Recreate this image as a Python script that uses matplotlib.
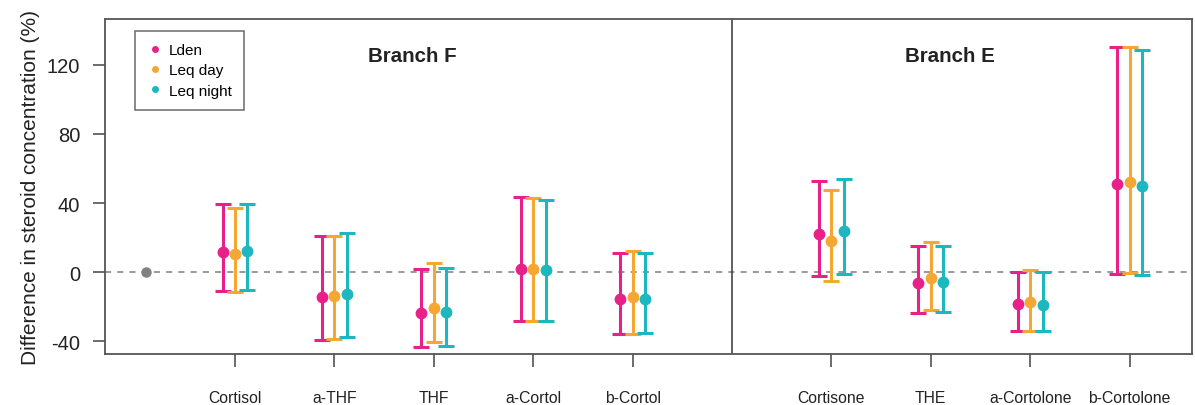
import matplotlib
matplotlib.use("Agg")
import matplotlib.pyplot as plt
from matplotlib.lines import Line2D
import numpy as np

plt.rcParams['font.family'] = ['Liberation Sans', 'DejaVu Sans']

# Steroid metabolites, grouped by branch
branch_f = ["Cortisol", "a-THF", "THF", "a-Cortol", "b-Cortol"]
branch_e = ["Cortisone", "THE", "a-Cortolone", "b-Cortolone"]
steroids = branch_f + branch_e

exposures = ["Lden", "Leq day", "Leq night"]

# Estimated % difference with 95% CI, per exposure metric
lden_est = [11.8, -14.1, -23.7, 1.9, -15.4, 22.3, -6.0, -18.5, 50.9]
lden_lo = [-10.6, -39.0, -43.4, -28.0, -35.7, -2.2, -23.3, -34.1, -1.0]
lden_hi = [39.7, 20.7, 1.9, 43.4, 11.0, 52.5, 15.0, 0.4, 130.5]

day_est = [10.4, -13.7, -20.8, 1.9, -14.1, 17.9, -3.3, -17.0, 52.0]
day_lo = [-11.6, -38.7, -40.5, -28.4, -35.5, -5.0, -21.6, -33.8, -0.6]
day_hi = [37.0, 20.7, 5.2, 43.0, 12.1, 47.4, 17.7, 1.3, 130.1]

night_est = [12.1, -12.5, -23.1, 1.5, -15.4, 23.8, -5.8, -19.0, 50.1]
night_lo = [-10.2, -37.4, -42.4, -28.4, -35.3, -0.8, -23.2, -34.1, -1.6]
night_hi = [39.7, 22.6, 2.5, 42.0, 11.2, 54.0, 15.0, 0.0, 128.8]

reference_value = 0.0

series = [
    (lden_est, lden_lo, lden_hi, "#E8218A"),
    (day_est, day_lo, day_hi, "#F4A833"),
    (night_est, night_lo, night_hi, "#1DB7BF"),
]

# Category positions: one empty slot separates the two branches
pos_f = np.arange(1, len(branch_f) + 1)
pos_e = np.arange(len(branch_f) + 2, len(branch_f) + 2 + len(branch_e))
positions = np.concatenate([pos_f, pos_e])
divider = len(branch_f) + 1
offsets = [-0.125, 0.0, 0.125]

fig = plt.figure(figsize=(11.95, 4.06), dpi=100)
ax = fig.add_axes([0.0879, 0.1256, 0.9096, 0.8251])

ax.axhline(reference_value, color="#7f7f7f", lw=1.1, ls=(0, (4, 4)), zorder=1)
ax.axvline(divider, color="#444444", lw=1.2, zorder=1)

for (est, lo, hi, col), off in zip(series, offsets):
    est = np.asarray(est)
    yerr = np.vstack([est - np.asarray(lo), np.asarray(hi) - est])
    ax.errorbar(positions + off, est, yerr=yerr, fmt="o", color=col,
                ecolor=col, elinewidth=2.2, capsize=6, capthick=2.2,
                markersize=7.5, zorder=3)

ax.plot([0.1], [reference_value], "o", color="#808080", markersize=6.5, zorder=3)

ax.set_xlim(-0.308, 10.628)
ax.set_ylim(-47.3, 146.5)

ax.set_xticks(positions)
ax.set_xticklabels(steroids, fontsize=11.3, color="#222222")
ax.set_yticks([-40, 0, 40, 80, 120])
ax.set_yticklabels(["-40", "0", "40", "80", "120"], fontsize=14.5, color="#222222")
ax.tick_params(axis="x", length=9, width=1.1, color="#444444", pad=17)
ax.tick_params(axis="y", length=9, width=1.1, color="#444444", pad=9)

for s in ax.spines.values():
    s.set_color("#555555")
    s.set_linewidth(1.3)

ax.set_ylabel("Difference in steroid concentration (%)", fontsize=15,
              color="#222222", labelpad=5)

ax.text(2.78, 125.5, "Branch F", fontsize=14.8, fontweight="bold",
        ha="center", va="center", color="#222222")
ax.text(8.19, 125.5, "Branch E", fontsize=14.8, fontweight="bold",
        ha="center", va="center", color="#222222")

handles = [Line2D([], [], ls="none", marker="o", markersize=4, color=c)
           for (_, _, _, c) in series]
leg = ax.legend(handles, exposures, loc="upper left",
                bbox_to_anchor=(0.0276, 0.964), borderaxespad=0,
                fontsize=11, frameon=True, fancybox=False,
                handlelength=1.0, handletextpad=0.4, labelspacing=0.4,
                borderpad=0.8)
leg.get_frame().set_edgecolor("#444444")
leg.get_frame().set_linewidth(1.1)

fig.savefig("out.png", dpi=100)
